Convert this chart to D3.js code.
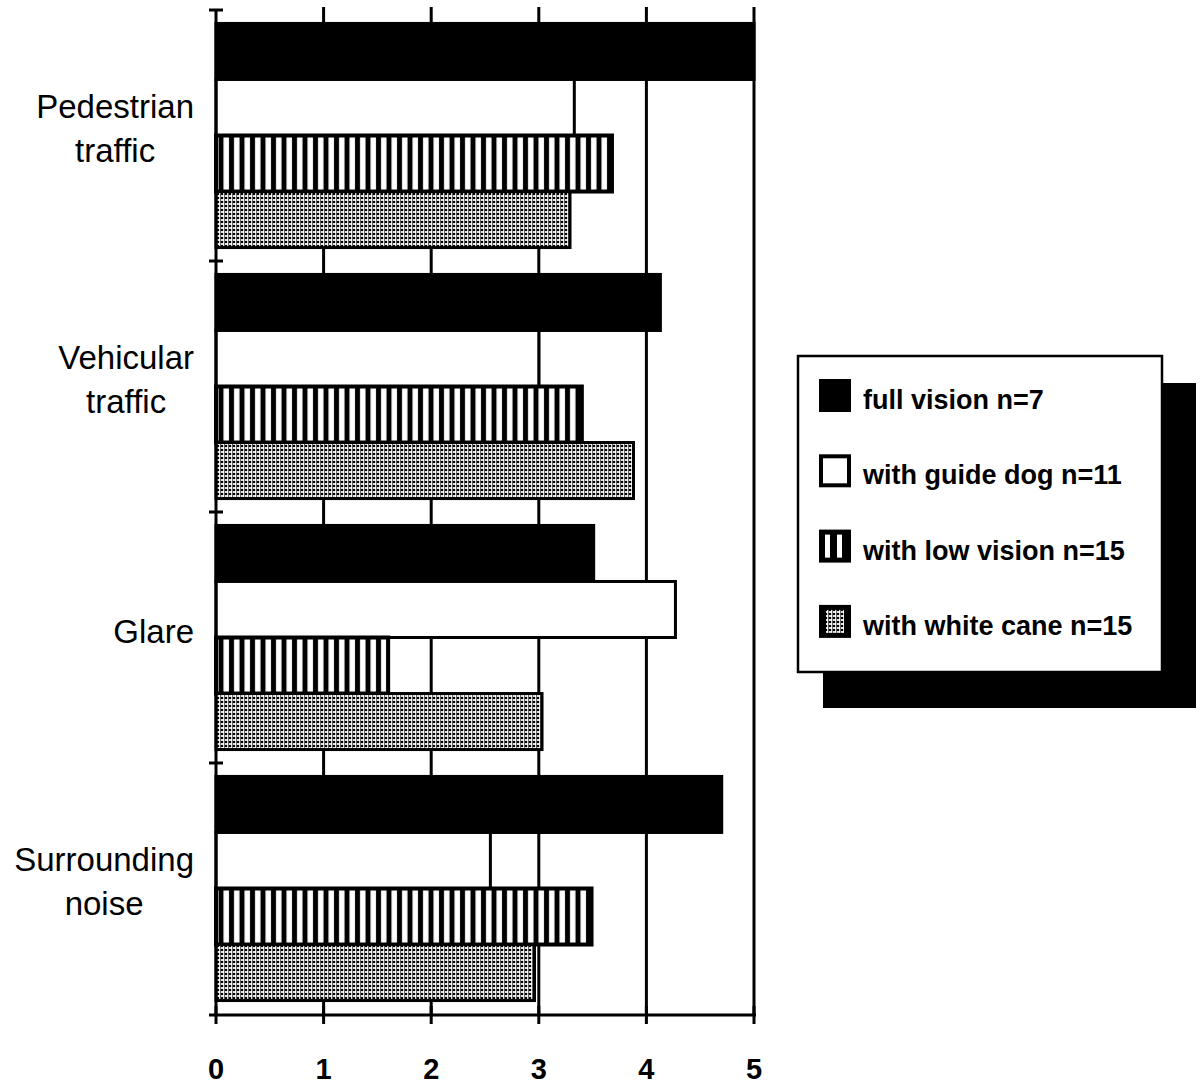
<!DOCTYPE html>
<html>
<head>
<meta charset="utf-8">
<script src="https://cdn.jsdelivr.net/npm/d3@7"></script>
<style>
  html, body { margin: 0; padding: 0; background: #fff; }
  svg { display: block; }
  text { font-family: "Liberation Sans", Arial, Helvetica, sans-serif; fill: #000; }
</style>
</head>
<body>
<svg id="chart" width="1204" height="1084"></svg>
<script>
// ---- data ----
const categories = ["Pedestrian traffic", "Vehicular traffic", "Glare", "Surrounding noise"];
const categoryLines = [["Pedestrian", "traffic"], ["Vehicular", "traffic"], ["Glare"], ["Surrounding", "noise"]];
const seriesNames = ["full vision n=7", "with guide dog n=11", "with low vision n=15", "with white cane n=15"];
const fullVision = [5.0, 4.13, 3.51, 4.70];
const guideDog   = [3.33, 3.00, 4.27, 2.55];
const lowVision  = [3.68, 3.40, 1.60, 3.49];
const whiteCane  = [3.29, 3.88, 3.03, 2.96];
const xTicks = [0, 1, 2, 3, 4, 5];

const seriesValues = [fullVision, guideDog, lowVision, whiteCane];

// ---- setup ----
const svg = d3.select("#chart");
const defs = svg.append("defs");

// stripes pattern (low vision)
const stripes = defs.append("pattern").attr("id", "stripes")
  .attr("patternUnits", "userSpaceOnUse").attr("width", 10.5).attr("height", 10);
stripes.append("rect").attr("width", 10.5).attr("height", 10).attr("fill", "#000");
stripes.append("rect").attr("x", 3).attr("width", 5.5).attr("height", 10).attr("fill", "#fff");

// dots pattern (white cane)
const dots = defs.append("pattern").attr("id", "dots")
  .attr("patternUnits", "userSpaceOnUse").attr("width", 4).attr("height", 4);
dots.append("rect").attr("width", 4).attr("height", 4).attr("fill", "#fff");
dots.append("circle").attr("cx", 2).attr("cy", 2).attr("r", 1.3).attr("fill", "#000");
dots.append("rect").attr("x", 0).attr("y", 0).attr("width", 0.6).attr("height", 4).attr("fill", "#000");

const fills = ["#000", "#fff", "url(#stripes)", "url(#dots)"];

const x = d3.scaleLinear().domain([0, 5]).range([216, 754]);
const y = d3.scaleBand().domain(categories).range([10, 1014]).paddingInner(0).paddingOuter(0);
const ySub = d3.scaleBand().domain(d3.range(seriesNames.length)).range([0, y.bandwidth()])
  .paddingInner(0).paddingOuter(0.24);

// ---- gridlines (vertical at 1..5) ----
svg.append("g").selectAll("line").data(xTicks.filter(t => t > 0)).join("line")
  .attr("x1", d => x(d)).attr("x2", d => x(d))
  .attr("y1", 7).attr("y2", 1015)
  .attr("stroke", "#000").attr("stroke-width", 3);

// ---- bars ----
const barData = [];
categories.forEach((c, ci) => {
  seriesValues.forEach((vals, si) => barData.push({ c, si, v: vals[ci] }));
});
svg.append("g").selectAll("rect").data(barData).join("rect")
  .attr("x", x(0))
  .attr("y", d => y(d.c) + ySub(d.si))
  .attr("width", d => x(d.v) - x(0))
  .attr("height", ySub.bandwidth())
  .attr("fill", d => fills[d.si])
  .attr("stroke", "#000")
  .attr("stroke-width", d => d.si === 2 ? 4 : 3);

// ---- left axis ----
const leftAxis = svg.append("g");
leftAxis.append("line").attr("x1", x(0)).attr("x2", x(0)).attr("y1", 10).attr("y2", 1016)
  .attr("stroke", "#000").attr("stroke-width", 3);
const boundaries = categories.map(c => y(c));
leftAxis.selectAll("line.tk").data(boundaries).join("line").attr("class", "tk")
  .attr("x1", x(0) - 7).attr("x2", x(0) + 7)
  .attr("y1", d => d).attr("y2", d => d)
  .attr("stroke", "#000").attr("stroke-width", 3);

// category labels: block right-aligned at x=193, lines centred within the block
categories.forEach((c, ci) => {
  const lines = categoryLines[ci];
  const cy = y(c) + y.bandwidth() / 2;
  const g = svg.append("g");
  const texts = lines.map((ln, li) => {
    const yy = lines.length === 1 ? cy + 5 : (li === 0 ? cy - 17.5 : cy + 26.5);
    return g.append("text").attr("text-anchor", "middle").attr("font-size", 33)
      .attr("y", yy).text(ln);
  });
  const maxW = d3.max(texts, t => t.node().getComputedTextLength());
  const cx = 194 - maxW / 2;
  texts.forEach(t => t.attr("x", cx));
});

// ---- bottom axis ----
const bottom = svg.append("g");
bottom.append("line").attr("x1", x(0) - 7).attr("x2", x(5) + 2).attr("y1", 1015).attr("y2", 1015)
  .attr("stroke", "#000").attr("stroke-width", 3);
bottom.selectAll("line.tk").data(xTicks).join("line").attr("class", "tk")
  .attr("x1", d => x(d)).attr("x2", d => x(d))
  .attr("y1", 1006).attr("y2", 1024)
  .attr("stroke", "#000").attr("stroke-width", 3);
bottom.selectAll("text").data(xTicks).join("text")
  .attr("x", d => x(d)).attr("y", 1079)
  .attr("text-anchor", "middle").attr("font-size", 29).attr("font-weight", "bold")
  .text(d => d);

// ---- legend ----
const lg = svg.append("g");
lg.append("rect").attr("x", 823).attr("y", 383).attr("width", 373).attr("height", 325).attr("fill", "#000");
lg.append("rect").attr("x", 798).attr("y", 356).attr("width", 364).attr("height", 316)
  .attr("fill", "#fff").attr("stroke", "#000").attr("stroke-width", 2.5);

seriesNames.forEach((name, i) => {
  const sy = 379 + i * 75.3;
  const sx = 819;
  if (i === 0) {
    lg.append("rect").attr("x", sx).attr("y", sy).attr("width", 32).attr("height", 33).attr("fill", "#000");
  } else if (i === 1) {
    lg.append("rect").attr("x", sx + 2).attr("y", sy + 2).attr("width", 28).attr("height", 29)
      .attr("fill", "#fff").attr("stroke", "#000").attr("stroke-width", 4);
  } else if (i === 2) {
    lg.append("rect").attr("x", sx).attr("y", sy).attr("width", 32).attr("height", 33).attr("fill", "#000");
    lg.append("rect").attr("x", sx + 6).attr("y", sy + 5).attr("width", 5).attr("height", 23).attr("fill", "#fff");
    lg.append("rect").attr("x", sx + 18).attr("y", sy + 5).attr("width", 5).attr("height", 23).attr("fill", "#fff");
  } else {
    lg.append("rect").attr("x", sx).attr("y", sy).attr("width", 32).attr("height", 33).attr("fill", "#000");
    lg.append("rect").attr("x", sx + 7).attr("y", sy + 5).attr("width", 18).attr("height", 23).attr("fill", "url(#dots)");
  }
  lg.append("text").attr("x", 863).attr("y", 409 + i * 75.3)
    .attr("font-size", 27).attr("font-weight", "bold")
    .text(name);
});
</script>
</body>
</html>
